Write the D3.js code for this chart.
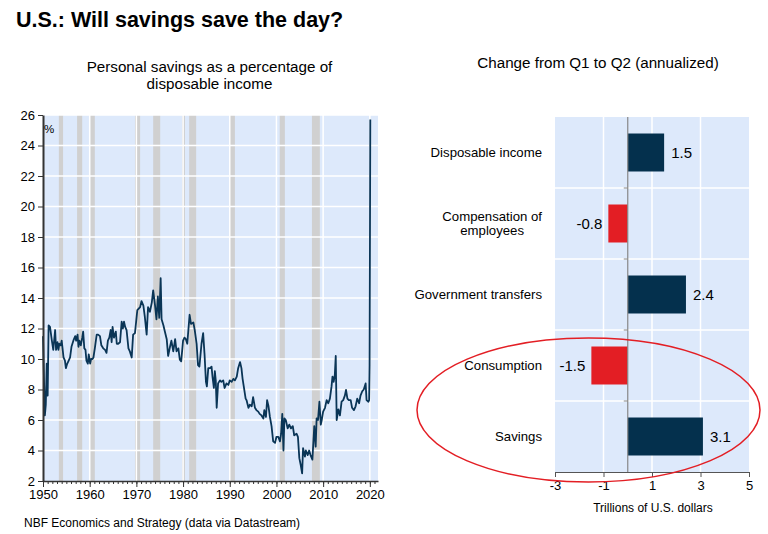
<!DOCTYPE html>
<html><head><meta charset="utf-8">
<script src="https://cdn.jsdelivr.net/npm/d3@7"></script>
<style>
body{margin:0;background:#fff;}
svg{display:block;font-family:"Liberation Sans",Arial,sans-serif;}
</style>
</head><body>
<svg id="c" width="768" height="534"></svg>
<script>
// ---------- DATA ----------
const rateYears = [
1950.0,1950.2,1950.4,1950.6,1950.8,1951.0,1951.2,1951.5,1951.9,1952.2,1952.6,1952.8,1953.1,1953.3,1953.5,1953.8,
1954.0,1954.4,1954.7,1954.9,1955.2,1955.5,1955.8,1956.1,1956.5,1956.9,1957.1,1957.4,1957.6,1957.8,1958.1,1958.4,
1958.6,1958.85,1959.1,1959.3,1959.6,1959.8,1960.1,1960.3,1960.6,1960.8,1961.1,1961.5,1961.8,1962.2,1962.5,1962.9,
1963.3,1963.6,1963.9,1964.2,1964.5,1964.7,1964.9,1965.2,1965.6,1965.8,1966.1,1966.5,1966.85,1967.1,1967.35,1967.6,
1967.9,1968.3,1968.6,1969.0,1969.3,1969.7,1970.2,1970.8,1971.1,1971.5,1971.8,1972.2,1972.5,1972.9,1973.3,1973.6,
1974.0,1974.3,1974.6,1974.9,1975.2,1975.4,1975.8,1976.1,1976.5,1976.8,1977.2,1977.5,1977.9,1978.3,1978.6,1979.0,
1979.3,1979.6,1980.0,1980.3,1980.6,1980.9,1981.4,1981.7,1982.2,1982.5,1982.9,1983.2,1983.5,1983.95,1984.3,1984.6,
1984.9,1985.1,1985.4,1985.8,1986.1,1986.3,1986.6,1986.8,1987.0,1987.2,1987.5,1987.9,1988.2,1988.6,1988.9,1989.3,
1989.7,1990.0,1990.4,1990.76,1991.1,1991.5,1991.8,1992.2,1992.5,1992.75,1993.0,1993.4,1993.6,1994.0,1994.3,1994.7,
1995.0,1995.4,1995.7,1996.1,1996.4,1996.8,1997.2,1997.4,1997.75,1998.0,1998.3,1998.6,1998.95,1999.3,1999.7,2000.0,
2000.4,2000.75,2001.0,2001.25,2001.5,2001.7,2002.0,2002.4,2002.75,2003.1,2003.5,2003.8,2004.3,2004.6,2004.9,2005.2,
2005.5,2005.7,2006.1,2006.3,2006.7,2007.0,2007.3,2007.7,2008.1,2008.4,2008.6,2008.9,2009.2,2009.5,2009.7,2010.0,
2010.4,2010.75,2011.1,2011.45,2011.8,2012.0,2012.25,2012.5,2012.7,2012.9,2013.25,2013.6,2013.95,2014.3,2014.65,2014.9,
2015.2,2015.5,2015.9,2016.2,2016.6,2016.95,2017.3,2017.7,2018.0,2018.4,2018.7,2019.1,2019.3,2019.7,2019.85,2019.95,
2020.1];
const rateValues = [
11.5,8.8,6.3,7.0,9.7,7.6,12.2,12.1,11.2,10.6,11.9,10.6,11.1,10.6,11.0,10.9,
11.2,10.1,9.9,9.4,9.7,9.9,10.1,10.8,11.2,11.5,11.2,11.6,10.8,11.2,10.9,11.4,
11.8,10.7,10.6,9.9,9.7,10.3,9.7,10.0,10.0,10.1,10.7,11.6,11.6,11.5,10.9,10.7,
10.6,10.4,11.2,11.4,11.9,11.1,12.1,11.4,11.8,11.0,11.0,11.1,12.45,12.0,12.45,12.1,
11.9,10.7,10.5,10.1,11.6,11.7,13.2,13.4,13.8,13.5,12.8,11.6,13.4,13.1,13.7,14.5,
13.5,12.6,14.1,12.7,15.3,12.6,12.2,11.8,11.3,10.2,10.8,11.2,10.5,11.3,10.5,10.7,
9.95,9.85,11.2,11.4,11.3,11.0,12.9,12.3,12.4,11.9,11.0,9.6,9.5,11.0,11.7,10.3,
8.5,8.2,9.4,9.4,9.5,8.85,8.1,9.2,8.6,6.8,8.4,8.6,8.5,8.6,8.1,8.4,
8.3,8.6,8.5,8.7,8.6,8.85,9.4,9.8,9.4,8.7,8.2,7.4,7.3,6.8,7.0,6.9,
7.5,6.8,6.65,6.55,6.4,6.3,6.1,6.65,6.2,7.3,6.9,6.2,5.6,4.6,4.5,4.9,
4.9,4.6,5.1,6.4,4.0,6.1,6.0,5.45,5.7,5.45,5.6,5.0,5.1,4.9,3.5,3.05,
2.5,4.15,3.6,4.0,3.7,4.0,3.7,3.4,5.6,4.25,6.1,6.0,7.2,5.7,6.0,6.55,
6.8,7.3,7.1,7.4,8.2,8.85,8.5,8.95,10.2,6.0,6.7,6.3,7.2,7.3,7.6,7.97,
7.4,7.3,7.3,6.8,6.65,6.9,7.4,7.1,7.6,7.9,8.0,8.4,7.3,7.2,7.3,9.6,
25.7];
const recessionStart = [1953.4,1957.3,1960.1,1969.7,1973.6,1979.8,1981.3,1990.0,2000.7,2007.6];
const recessionEnd   = [1954.3,1958.4,1961.1,1970.8,1975.1,1980.4,1982.8,1991.1,2001.8,2009.3];
const rateTicks = [2,4,6,8,10,12,14,16,18,20,22,24,26];
const yearTicks = [1950,1960,1970,1980,1990,2000,2010,2020];

const categoryLines = [["Disposable income"],["Compensation of","employees"],["Government transfers"],["Consumption"],["Savings"]];
const changes = [1.5,-0.8,2.4,-1.5,3.1];
const changeLabels = ["1.5","-0.8","2.4","-1.5","3.1"];
const changeTicks = [-3,-1,1,3,5];

// ---------- STYLE ----------
const BG = "#dde9fb", GRAY = "#d0d0d0", NAVY = "#04304d", RED = "#e31e24", LINE = "#0a3556";
const svg = d3.select("#c");

// Title
svg.append("text").attr("x",16).attr("y",27).attr("font-size",21.5).attr("font-weight","bold").text("U.S.: Will savings save the day?");

// ---------- LEFT CHART ----------
const L = {l:43, r:378, t:115, b:481};
const x = d3.scaleLinear().domain([1950, 2021.75]).range([L.l, L.r]);
const y = d3.scaleLinear().domain([2, 26]).range([L.b, L.t]);

svg.append("text").attr("x",209.5).attr("y",72).attr("text-anchor","middle").attr("font-size",15.2).text("Personal savings as a percentage of");
svg.append("text").attr("x",209.5).attr("y",89).attr("text-anchor","middle").attr("font-size",15.2).text("disposable income");

const gl = svg.append("g");
gl.append("rect").attr("x",L.l).attr("y",L.t).attr("width",L.r-L.l).attr("height",L.b-L.t).attr("fill",BG);
gl.selectAll("rect.rec").data(recessionStart).join("rect").attr("class","rec")
  .attr("x",(d)=>x(d)).attr("width",(d,i)=>x(recessionEnd[i])-x(d))
  .attr("y",L.t).attr("height",L.b-L.t).attr("fill",GRAY);
gl.selectAll("line.hg").data(rateTicks.slice(1)).join("line").attr("class","hg")
  .attr("x1",L.l).attr("x2",L.r).attr("y1",d=>y(d)).attr("y2",d=>y(d)).attr("stroke","#fff").attr("stroke-width",1.5);
gl.selectAll("line.vg").data(yearTicks.slice(1)).join("line").attr("class","vg")
  .attr("x1",d=>x(d)).attr("x2",d=>x(d)).attr("y1",L.t).attr("y2",L.b).attr("stroke","#fff").attr("stroke-width",1.5);

const pts = rateYears.map((yr,i)=>[yr, rateValues[i]]);
gl.append("path").datum(pts).attr("fill","none").attr("stroke",LINE).attr("stroke-width",1.8).attr("stroke-linejoin","round")
  .attr("d", d3.line().x(d=>x(d[0])).y(d=>y(d[1])));

// y axis
const ya = gl.append("g").attr("transform",`translate(${L.l},0)`)
  .call(d3.axisLeft(y).tickValues(rateTicks).tickSize(5).tickSizeOuter(0).tickPadding(3));
ya.select(".domain").attr("stroke","#333").attr("stroke-width",2);
ya.selectAll(".tick line").attr("stroke","#333");
ya.selectAll("text").attr("font-size",13).attr("font-family","Liberation Sans, Arial").attr("fill","#000");

// x axis minor
const minorYears = d3.range(1950, 2022, 1);
const xm = gl.append("g").attr("transform",`translate(0,${L.b})`)
  .call(d3.axisBottom(x).tickValues(minorYears).tickSize(3).tickFormat(""));
xm.select(".domain").remove();
xm.selectAll(".tick line").attr("stroke","#333");
const xa = gl.append("g").attr("transform",`translate(0,${L.b})`)
  .call(d3.axisBottom(x).tickValues(yearTicks).tickSize(6).tickSizeOuter(0).tickFormat(d3.format("d")).tickPadding(3));
xa.select(".domain").attr("stroke","#333").attr("stroke-width",1.5);
xa.selectAll(".tick line").attr("stroke","#333");
xa.selectAll("text").attr("font-size",13).attr("font-family","Liberation Sans, Arial").attr("fill","#000");

gl.append("text").attr("x",L.l+1).attr("y",133).attr("font-size",11.5).text("%");

svg.append("text").attr("x",24).attr("y",527).attr("font-size",12).text("NBF Economics and Strategy (data via Datastream)");

// ---------- RIGHT CHART ----------
const R = {l:555, r:749, t:117, b:472};
const xr = d3.scaleLinear().domain([-3,5]).range([R.l, R.r]);
const cats = categoryLines.map(d=>d.join(" "));
const yr = d3.scaleBand().domain(cats).range([R.t, R.b]).paddingInner(0.465).paddingOuter(0.2325);
const step = yr.step(), bw = yr.bandwidth();

svg.append("text").attr("x",598).attr("y",68).attr("text-anchor","middle").attr("font-size",15.2).text("Change from Q1 to Q2 (annualized)");

const gr = svg.append("g");
gr.append("rect").attr("x",R.l).attr("y",R.t).attr("width",R.r-R.l).attr("height",R.b-R.t).attr("fill",BG);
gr.selectAll("line.vg").data(changeTicks.slice(1,4)).join("line").attr("class","vg")
  .attr("x1",d=>xr(d)).attr("x2",d=>xr(d)).attr("y1",R.t).attr("y2",R.b).attr("stroke","#fff").attr("stroke-width",1.5);
gr.selectAll("line.hg").data(cats.slice(1)).join("line").attr("class","hg")
  .attr("x1",R.l).attr("x2",R.r).attr("y1",d=>yr(d)+bw/2-step/2).attr("y2",d=>yr(d)+bw/2-step/2).attr("stroke","#fff").attr("stroke-width",1.5);

gr.selectAll("rect.bar").data(changes).join("rect").attr("class","bar")
  .attr("x",d=>xr(Math.min(0,d))).attr("width",d=>Math.abs(xr(d)-xr(0)))
  .attr("y",(d,i)=>yr(cats[i])).attr("height",bw)
  .attr("fill",d=>d<0?RED:NAVY);

// zero axis
gr.append("line").attr("x1",xr(0)).attr("x2",xr(0)).attr("y1",R.t).attr("y2",R.b).attr("stroke","#888").attr("stroke-width",1.2);
gr.selectAll("line.zt").data(cats.slice(1)).join("line").attr("class","zt")
  .attr("x1",xr(0)-4).attr("x2",xr(0)).attr("y1",d=>yr(d)+bw/2-step/2).attr("y2",d=>yr(d)+bw/2-step/2).attr("stroke","#888");

// value labels
gr.selectAll("text.val").data(changes).join("text").attr("class","val")
  .attr("x",d=>d<0?xr(d)-6:xr(d)+7).attr("y",(d,i)=>yr(cats[i])+bw/2+5.5)
  .attr("text-anchor",d=>d<0?"end":"start").attr("font-size",15).text((d,i)=>changeLabels[i]);

// category labels
categoryLines.forEach((lines,i)=>{
  const cy = yr(cats[i]) + bw/2;
  const t = gr.append("text").attr("font-size",13.2).attr("text-anchor","middle");
  const tsp = lines.map((ln,j)=>t.append("tspan").text(ln));
  const widths = tsp.map(s=>s.node().getComputedTextLength());
  const maxW = d3.max(widths);
  const cx = 542 - maxW/2;
  const n = lines.length;
  tsp.forEach((s,j)=>s.attr("x",cx).attr("y",cy + 4.5 + (j-(n-1)/2)*14.5));
});

// x axis
const xra = gr.append("g").attr("transform",`translate(0,${R.b})`)
  .call(d3.axisBottom(xr).tickValues(changeTicks).tickSize(5).tickSizeOuter(0).tickPadding(4).tickFormat(d=>String(d)));
xra.select(".domain").attr("stroke","#555").attr("stroke-width",1.2);
xra.selectAll(".tick line").attr("stroke","#555");
xra.selectAll("text").attr("font-size",13).attr("font-family","Liberation Sans, Arial").attr("fill","#000");

svg.append("text").attr("x",653).attr("y",512).attr("text-anchor","middle").attr("font-size",12).text("Trillions of U.S. dollars");

// highlight ellipse
svg.append("ellipse").attr("cx",588.5).attr("cy",410).attr("rx",171.5).attr("ry",72)
  .attr("fill","none").attr("stroke",RED).attr("stroke-width",1.5);
</script>
</body></html>
